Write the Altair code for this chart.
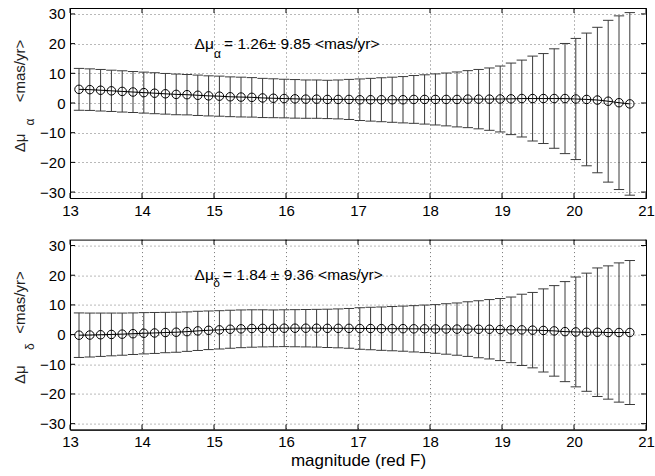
import altair as alt
import pandas as pd

FONT = "Liberation Sans"
W, H = 576, 190
CAP = 0.072

mags = [13.125, 13.275, 13.425, 13.575, 13.725, 13.875, 14.025, 14.175, 14.325, 14.475,
        14.625, 14.775, 14.925, 15.075, 15.225, 15.375, 15.525, 15.675, 15.825, 15.975,
        16.125, 16.275, 16.425, 16.575, 16.725, 16.875, 17.025, 17.175, 17.325, 17.475,
        17.625, 17.775, 17.925, 18.075, 18.225, 18.375, 18.525, 18.675, 18.825, 18.975,
        19.125, 19.275, 19.425, 19.575, 19.725, 19.875, 20.025, 20.175, 20.325, 20.475,
        20.625, 20.775]

ra_mean = [4.6, 4.5, 4.3, 4.1, 3.9, 3.7, 3.5, 3.3, 3.1, 2.9,
           2.8, 2.6, 2.4, 2.3, 2.1, 2.0, 1.9, 1.7, 1.6, 1.5,
           1.4, 1.3, 1.3, 1.2, 1.2, 1.2, 1.1, 1.1, 1.1, 1.1,
           1.1, 1.2, 1.2, 1.2, 1.2, 1.2, 1.3, 1.3, 1.3, 1.35,
           1.4, 1.5, 1.5, 1.5, 1.5, 1.5, 1.35, 1.2, 1.0, 0.6,
           0.1, -0.3]
ra_err = [7.05, 7.0, 7.0, 6.95, 6.95, 6.9, 6.9, 6.9, 6.85, 6.85,
          6.8, 6.8, 6.75, 6.75, 6.7, 6.7, 6.65, 6.6, 6.55, 6.5,
          6.5, 6.45, 6.45, 6.45, 6.55, 6.75, 7.0, 7.2, 7.4, 7.6,
          7.8, 8.05, 8.3, 8.6, 8.9, 9.25, 9.6, 10.0, 10.5, 11.1,
          12.05, 12.95, 14.3, 15.15, 16.75, 18.55, 20.4, 22.35, 24.5, 27.25,
          29.25, 30.75]

de_mean = [-0.2, -0.15, -0.05, 0.05, 0.15, 0.3, 0.45, 0.55, 0.7, 0.8,
           1.0, 1.25, 1.45, 1.6, 1.8, 1.95, 2.05, 2.1, 2.1, 2.15,
           2.15, 2.15, 2.15, 2.1, 2.1, 2.1, 2.05, 2.05, 2.0, 2.0,
           2.0, 1.95, 1.95, 1.9, 1.9, 1.85, 1.85, 1.8, 1.8, 1.7,
           1.6, 1.6, 1.5, 1.4, 1.25, 1.0, 0.9, 0.8, 0.8, 0.7,
           0.7, 0.7]
de_err = [7.5, 7.4, 7.3, 7.2, 7.1, 7.0, 6.95, 6.9, 6.8, 6.75,
          6.65, 6.6, 6.5, 6.45, 6.4, 6.35, 6.3, 6.25, 6.2, 6.2,
          6.25, 6.3, 6.35, 6.45, 6.55, 6.7, 7.0, 7.15, 7.3, 7.45,
          7.6, 7.8, 8.0, 8.2, 8.5, 8.8, 9.2, 9.6, 10.0, 10.45,
          11.05, 12.0, 12.7, 14.0, 15.25, 16.85, 18.5, 19.9, 21.65, 22.45,
          23.45, 24.25]

x_ticks = [13, 14, 15, 16, 17, 18, 19, 20, 21]
y_ticks = [-30, -20, -10, 0, 10, 20, 30]

BAR_C = "#3a3a3a"


def panel(mean, err, sub, rest, sub_x, rest_x, sub_dy, ysub_y, x_title):
    df = pd.DataFrame({"mag": mags, "mean": mean, "err": err})
    df["lo"] = df["mean"] - df["err"]
    df["hi"] = df["mean"] + df["err"]
    df["cl"] = df["mag"] - CAP
    df["cr"] = df["mag"] + CAP

    xs = alt.Scale(domain=[13, 21], nice=False, zero=False)
    ys = alt.Scale(domain=[-32, 32], nice=False, zero=False)
    xaxis_kw = dict(values=x_ticks, grid=True, ticks=False, labelPadding=5,
                    labelFlush=False, format="d", labelOverlap=False)
    if x_title:
        xaxis_kw["title"] = x_title
        xaxis_kw["titlePadding"] = 3
    else:
        xaxis_kw["title"] = ""
    xaxis = alt.Axis(**xaxis_kw)
    yaxis = alt.Axis(values=y_ticks, grid=True, ticks=False, title="",
                     labelPadding=5, labelFlush=False, format="d", labelOverlap=False,
                     labelBound=False)

    def X(f):
        return alt.X(f, scale=xs, axis=xaxis)

    def Y(f):
        return alt.Y(f, scale=ys, axis=yaxis)

    base = alt.Chart(df)
    bars = base.mark_rule(color=BAR_C, strokeWidth=1).encode(
        x=X("mag:Q"), y=Y("lo:Q"), y2="hi:Q")
    cap_lo = base.mark_rule(color=BAR_C, strokeWidth=1).encode(
        x=X("cl:Q"), x2="cr:Q", y=Y("lo:Q"))
    cap_hi = base.mark_rule(color=BAR_C, strokeWidth=1).encode(
        x=X("cl:Q"), x2="cr:Q", y=Y("hi:Q"))
    line = base.mark_line(color="black", strokeWidth=1).encode(
        x=X("mag:Q"), y=Y("mean:Q"))
    pts = base.mark_point(shape="circle", filled=False, size=72, color="black",
                          strokeWidth=1, opacity=1).encode(
        x=X("mag:Q"), y=Y("mean:Q"))

    # inward ticks on all four sides (MATLAB style box)
    xt = alt.Chart(pd.DataFrame({"t": x_ticks}))
    yt = alt.Chart(pd.DataFrame({"t": y_ticks}))
    tk_b = xt.mark_rule(color="black").encode(
        x=X("t:Q"), y=alt.value(H), y2=alt.value(H - 5))
    tk_t = xt.mark_rule(color="black").encode(
        x=X("t:Q"), y=alt.value(0), y2=alt.value(5))
    tk_l = yt.mark_rule(color="black").encode(
        y=Y("t:Q"), x=alt.value(0), x2=alt.value(5))
    tk_r = yt.mark_rule(color="black").encode(
        y=Y("t:Q"), x=alt.value(W - 5), x2=alt.value(W))

    # in-plot annotation
    ann_main = alt.Chart(pd.DataFrame({"x": [14.73], "y": [20], "t": ["Δμ"]})).mark_text(
        align="left", baseline="middle", fontSize=15.5, color="black").encode(
        x=X("x:Q"), y=Y("y:Q"), text="t:N")
    ann_sub = alt.Chart(pd.DataFrame({"x": [sub_x], "y": [20], "t": [sub]})).mark_text(
        align="left", baseline="middle", fontSize=12, dy=sub_dy, color="black").encode(
        x=X("x:Q"), y=Y("y:Q"), text="t:N")
    ann_rest = alt.Chart(pd.DataFrame({"x": [rest_x], "y": [20], "t": [rest]})).mark_text(
        align="left", baseline="middle", fontSize=15.5, color="black").encode(
        x=X("x:Q"), y=Y("y:Q"), text="t:N")

    # y axis title with subscript (rotated)
    ttl_unit = alt.Chart(pd.DataFrame({"t": ["<mas/yr>"]})).mark_text(
        angle=270, fontSize=15, color="#222222", align="center", baseline="middle").encode(
        x=alt.value(-50), y=alt.value(63), text="t:N")
    ttl_mu = alt.Chart(pd.DataFrame({"t": ["Δμ"]})).mark_text(
        angle=270, fontSize=15, color="#222222", align="center", baseline="middle").encode(
        x=alt.value(-50), y=alt.value(135), text="t:N")
    ttl_sub = alt.Chart(pd.DataFrame({"t": [sub]})).mark_text(
        angle=270, fontSize=12, color="#222222", align="center", baseline="middle").encode(
        x=alt.value(-40), y=alt.value(ysub_y), text="t:N")

    return alt.layer(bars, cap_lo, cap_hi, line, pts, tk_b, tk_t, tk_l, tk_r,
                     ann_main, ann_sub, ann_rest, ttl_unit, ttl_mu, ttl_sub).properties(
        width=W, height=H)


top = panel(ra_mean, ra_err, "α", "= 1.26± 9.85 <mas/yr>", 15.0, 15.14, 10, 114, None)
bottom = panel(de_mean, de_err, "δ", "= 1.84 ± 9.36 <mas/yr>", 14.99, 15.125, 8, 107,
               "magnitude (red F)")

chart = alt.vconcat(top, bottom, spacing=41.6, bounds="flush").properties(
    padding={"left": 12, "top": 6, "right": 0, "bottom": 4}
).configure_view(
    stroke="black", strokeWidth=1
).configure_axis(
    labelFont=FONT, labelFontSize=15, labelColor="black", labelOverlap=False,
    titleFont=FONT, titleFontSize=17, titleFontWeight="normal", titleColor="black",
    domainColor="black", gridColor="#000000", gridDash=[1, 3], gridOpacity=0.55,
    gridWidth=1
).configure_text(font=FONT)

chart.save("out.html", embed_options={"renderer": "svg", "actions": False})
